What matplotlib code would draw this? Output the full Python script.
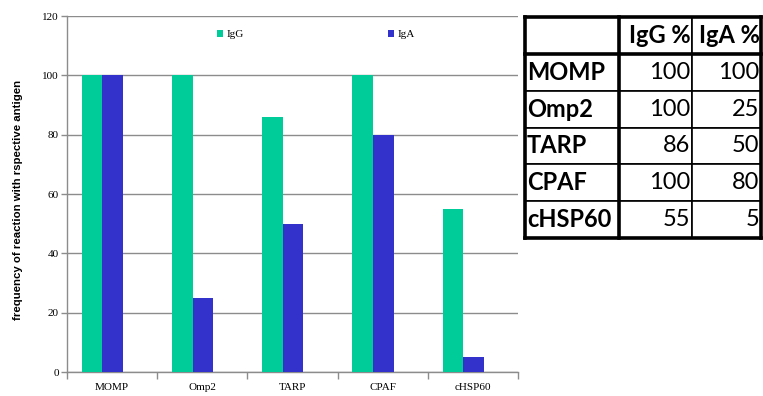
import matplotlib

matplotlib.use("Agg")
import numpy as np
from matplotlib import pyplot as plt

# Data
antigens = ["MOMP", "Omp2", "TARP", "CPAF", "cHSP60"]
igg = [100, 100, 86, 100, 55]
iga = [100, 25, 50, 80, 5]
series_names = ["IgG", "IgA"]
table_header = ["", "IgG %", "IgA %"]

GREEN = "#00CC99"
BLUE = "#3333CC"
GRID = "#8c8c8c"
SERIF = "Liberation Serif"

fig = plt.figure(figsize=(7.63, 3.96), dpi=100)

# Bar chart
ax = fig.add_axes([67 / 763, 24 / 396, 451 / 763, 356 / 396])
x = np.arange(len(antigens))
bar_w = 0.228
ax.bar(x + 0.165, igg, width=bar_w, align="edge", color=GREEN, label=series_names[0], zorder=3)
ax.bar(x + 0.165 + bar_w, iga, width=bar_w, align="edge", color=BLUE, label=series_names[1], zorder=3)

ax.set_xlim(0, len(antigens))
ax.set_ylim(0, 120)
ax.set_yticks(np.arange(0, 121, 20))
ax.yaxis.grid(True, color=GRID, linewidth=1.0, zorder=0)

# category boundaries as major ticks, names centred as minor ticks
ax.set_xticks(np.arange(len(antigens) + 1))
ax.set_xticklabels([])
ax.set_xticks(x + 0.5, minor=True)
ax.set_xticklabels(antigens, minor=True, fontfamily=SERIF, fontsize=8)
ax.tick_params(axis="x", which="major", length=5, color=GRID, width=1)
ax.tick_params(axis="x", which="minor", length=0, pad=8)
ax.tick_params(axis="y", length=4, color=GRID, width=1, pad=2, labelsize=8)
for lbl in ax.get_yticklabels():
    lbl.set_fontfamily(SERIF)

for side in ["top", "right"]:
    ax.spines[side].set_visible(False)
for side in ["left", "bottom"]:
    ax.spines[side].set_color(GRID)
    ax.spines[side].set_linewidth(1.0)

ax.set_ylabel("frequency of reaction with rspective antigen", fontsize=8.2, fontweight="bold",
              fontfamily="Liberation Sans", va="center")
ax.yaxis.set_label_coords(-0.108, 0.484)

ax.legend(loc="upper left", bbox_to_anchor=(0.322, 0.974), ncol=2, frameon=False,
          prop={"family": SERIF, "size": 8}, handlelength=0.6, handleheight=0.6,
          handletextpad=0.25, columnspacing=13.0, borderaxespad=0)

# Table
tax = fig.add_axes([525 / 763, 158 / 396, 236 / 763, 221 / 396])
tax.set_axis_off()
cells = [table_header] + [[a, str(g), str(b)] for a, g, b in zip(antigens, igg, iga)]
col_w = np.array([94, 73, 69]) / 236
table = tax.table(cellText=cells, colWidths=col_w, bbox=[0, 0, 1, 1], cellLoc="right")
table.auto_set_font_size(False)
for (r, c), cell in table.get_celld().items():
    cell.set_linewidth(1.2)
    cell.set_edgecolor("black")
    txt = cell.get_text()
    txt.set_fontfamily("Lato")
    txt.set_fontsize(17)
    if r == 0 or c == 0:
        txt.set_fontweight("bold")
    if c == 0:
        cell._loc = "left"
        txt.set_horizontalalignment("left")
    cell.PAD = 0.02

# thick lines: outer border, header underline, first column divider
for y in [0, 1, 5 / 6]:
    tax.axhline(y, color="black", linewidth=2.6, zorder=5, clip_on=False)
for xv in [0, 1, col_w[0]]:
    tax.axvline(xv, color="black", linewidth=2.6, zorder=5, clip_on=False)

fig.savefig("out.png", dpi=100)
